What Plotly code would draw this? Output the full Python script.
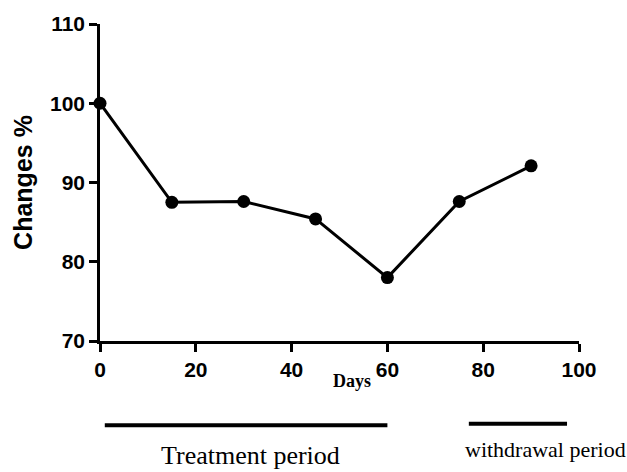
import plotly.graph_objects as go

days = [0, 15, 30, 45, 60, 75, 90]
changes = [100, 87.5, 87.6, 85.4, 78.0, 87.6, 92.1]
x_ticks = [0, 20, 40, 60, 80, 100]
y_ticks = [70, 80, 90, 100, 110]
treatment_span = [1, 60]
withdrawal_span = [77, 97.5]

W, H = 627, 472
L, R, T, B = 100, 48, 19, 131

fig = go.Figure()
fig.add_trace(go.Scatter(
    x=days, y=changes, mode="lines+markers",
    line=dict(color="black", width=3),
    marker=dict(color="black", size=13),
    cliponaxis=False, showlegend=False,
))

axis_font = dict(family="Liberation Sans, Arial", size=21, color="black", weight="bold")
common = dict(showgrid=False, zeroline=False, showline=True, linecolor="black", linewidth=2.5,
              ticks="outside", ticklen=8, tickwidth=2.5, tickcolor="black", tickfont=axis_font)

fig.update_xaxes(range=[0, 100], tickvals=x_ticks, **common)
fig.update_yaxes(range=[70, 110], tickvals=y_ticks, **common,
                 title=dict(text="Changes %", font=dict(family="Liberation Sans, Arial", size=25,
                                                          color="black", weight="bold"), standoff=11))

serif = "Liberation Serif, Times New Roman"
pw = W - L - R
ph = H - T - B

def py(pix):
    return (H - B - pix) / ph

fig.add_shape(type="line", xref="x", yref="paper", x0=treatment_span[0], x1=treatment_span[1],
              y0=py(426.5), y1=py(426.5), line=dict(color="black", width=4))
fig.add_shape(type="line", xref="x", yref="paper", x0=withdrawal_span[0], x1=withdrawal_span[1],
              y0=py(425), y1=py(425), line=dict(color="black", width=4))

ann = dict(xref="paper", yref="paper", showarrow=False, xanchor="center", yanchor="middle")
fig.add_annotation(text="<b>Days</b>", x=(352 - L) / pw, y=py(382),
                   font=dict(family=serif, size=18, color="black"), **ann)
fig.add_annotation(text="Treatment period", x=(250 - L) / pw, y=py(457),
                   font=dict(family=serif, size=26, color="black"), **ann)
fig.add_annotation(text="withdrawal period", x=(545 - L) / pw, y=py(451),
                   font=dict(family=serif, size=22, color="black"), **ann)

fig.update_layout(width=W, height=H, margin=dict(l=L, r=R, t=T, b=B),
                  paper_bgcolor="white", plot_bgcolor="white")
fig.write_html("out.html")
